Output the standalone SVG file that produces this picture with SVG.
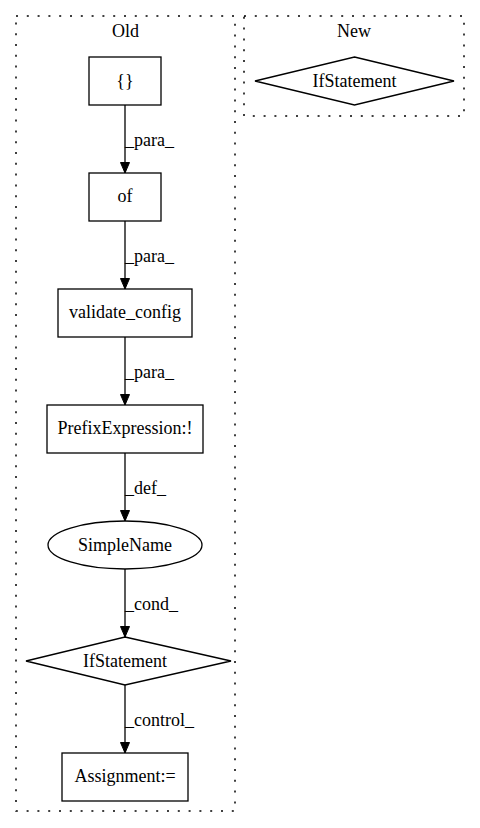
<svg xmlns="http://www.w3.org/2000/svg" width="480" height="828" viewBox="0 0 480 828">
<defs>
<marker id="arr" markerWidth="12" markerHeight="12" refX="11" refY="5" orient="auto" markerUnits="userSpaceOnUse">
<path d="M0.5,0.5 L11,5 L0.5,9.5 Z" fill="#000" stroke="#000" stroke-width="1"/>
</marker>
</defs>
<style>
text{font-family:"Liberation Serif","Times New Roman",serif;font-size:18px;fill:#000}
.n{fill:none;stroke:#000;stroke-width:1.3}
.c{fill:none;stroke:#000;stroke-width:1.5;stroke-dasharray:2,8.8}
.e{fill:none;stroke:#000;stroke-width:1.3;marker-end:url(#arr)}
.m{text-anchor:middle}
</style>
<rect width="480" height="828" fill="#fff"/>
<g id="cluster_old">
<rect class="c" x="16" y="16" width="219" height="795"/>
<text class="m" x="125.5" y="37">Old</text>
</g>
<g id="cluster_new">
<rect class="c" x="244" y="16" width="220" height="100"/>
<text class="m" x="354" y="37">New</text>
</g>
<g id="connectors">
<path class="e" d="M125,105 V173"/>
<text x="125" y="146">_para_</text>
<path class="e" d="M125,221 V289"/>
<text x="125" y="262">_para_</text>
<path class="e" d="M125,337 V405"/>
<text x="125" y="378">_para_</text>
<path class="e" d="M125,453 V521"/>
<text x="125" y="494">_def_</text>
<path class="e" d="M125,569 V637"/>
<text x="125" y="610">_cond_</text>
<path class="e" d="M125,685 V753"/>
<text x="125" y="726">_control_</text>
</g>
<g id="n_braces">
<rect class="n" x="89" y="57" width="72" height="48"/>
<text class="m" x="125" y="87">{}</text>
</g>
<g id="n_of">
<rect class="n" x="89" y="173" width="72" height="48"/>
<text class="m" x="125" y="202">of</text>
</g>
<g id="n_validate">
<rect class="n" x="58" y="289" width="134" height="48"/>
<text class="m" x="125" y="318">validate_config</text>
</g>
<g id="n_prefix">
<rect class="n" x="47" y="405" width="156" height="48"/>
<text class="m" x="125" y="434">PrefixExpression:!</text>
</g>
<g id="n_simplename">
<ellipse class="n" cx="125" cy="545" rx="77" ry="24"/>
<text class="m" x="125" y="551">SimpleName</text>
</g>
<g id="n_if_old">
<polygon class="n" points="125,637 231,661 125,685 26,661"/>
<text class="m" x="125" y="667">IfStatement</text>
</g>
<g id="n_assign">
<rect class="n" x="62" y="753" width="126" height="48"/>
<text class="m" x="125" y="782">Assignment:=</text>
</g>
<g id="n_if_new">
<polygon class="n" points="354.5,57 454,81 354.5,105 255,81"/>
<text class="m" x="354.5" y="87">IfStatement</text>
</g>
</svg>
